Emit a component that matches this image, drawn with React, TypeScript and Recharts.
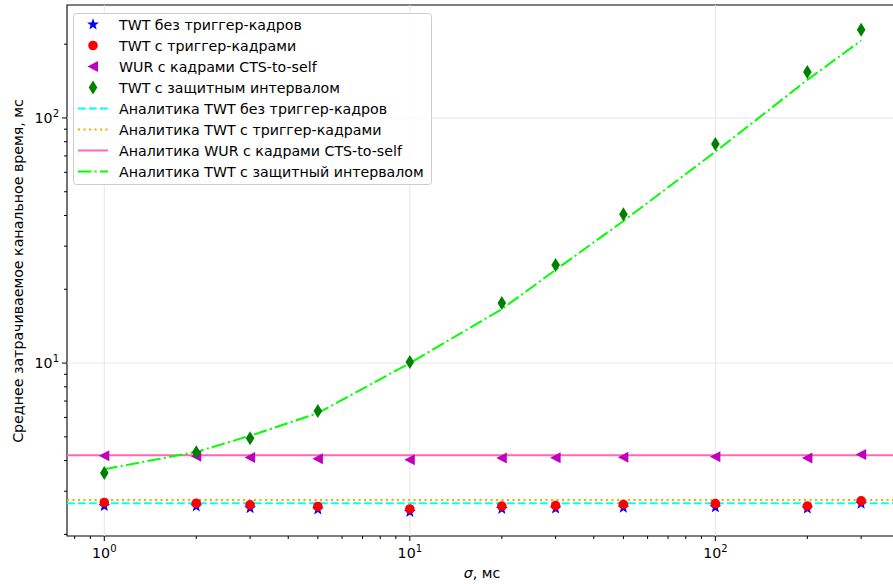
import {
  ComposedChart,
  Line,
  ReferenceArea,
  ReferenceLine,
  Scatter,
  XAxis,
  YAxis,
} from "recharts";

// sigma, ms
const SIGMA = [1, 2, 3, 5, 10, 20, 30, 50, 100, 200, 300];

// simulated mean channel time, ms
const twtNoTrigger = [2.61, 2.6, 2.56, 2.53, 2.47, 2.54, 2.55, 2.57, 2.58, 2.55, 2.67];
const twtTrigger = [2.7, 2.68, 2.64, 2.6, 2.54, 2.61, 2.62, 2.65, 2.67, 2.61, 2.74];
const wurCts = [4.19, 4.17, 4.12, 4.07, 4.03, 4.1, 4.11, 4.13, 4.15, 4.1, 4.24];
const twtGuard = [3.56, 4.33, 4.94, 6.37, 10.1, 17.6, 25.1, 40.5, 78.3, 154, 229];

// analytics
const analyticGuard = [3.69, 4.34, 5.05, 6.25, 10.0, 16.6, 24.0, 38.0, 72.8, 143, 207];
const ANALYTIC_NO_TRIGGER = 2.68;
const ANALYTIC_TRIGGER = 2.76;
const ANALYTIC_WUR = 4.21;

const X_DOMAIN = [0.755, 399];
const Y_DOMAIN = [1.97, 289];
const X_MAJOR = [1, 10, 100];
const X_MINOR = [0.8, 0.9, 2, 3, 4, 5, 6, 7, 8, 9, 20, 30, 40, 50, 60, 70, 80, 90, 200, 300];
const Y_MAJOR = [10, 100];
const Y_MINOR = [2, 3, 4, 5, 6, 7, 8, 9, 20, 30, 40, 50, 60, 70, 80, 90, 200];

const LABELS = {
  noTrigger: "TWT без триггер-кадров",
  trigger: "TWT с триггер-кадрами",
  wur: "WUR с кадрами CTS-to-self",
  guard: "TWT с защитным интервалом",
  aNoTrigger: "Аналитика TWT без триггер-кадров",
  aTrigger: "Аналитика TWT с триггер-кадрами",
  aWur: "Аналитика WUR с кадрами CTS-to-self",
  aGuard: "Аналитика TWT с защитный интервалом",
};

const FONT = "DejaVu Sans";
const FS = 14.2;
const LW = 2;
const DASHED = "7.7 3.3";
const DOTTED = "2.1 3.4";
const DASHDOT = "13.3 3.3 2.1 3.3";
const C = {
  blue: "#0000ff",
  red: "#ff0000",
  magenta: "#bf00bf",
  green: "#008000",
  cyan: "#00ffff",
  orange: "#ffa500",
  pink: "#ff69b4",
  lime: "#00ff00",
  grid: "#e6e6e6",
};

const pts = (vals: number[]) => SIGMA.map((x, i) => ({ x, y: vals[i] }));

function starPath(cx: number, cy: number, R: number) {
  const r = R * 0.42;
  let d = "";
  for (let i = 0; i < 10; i++) {
    const a = -Math.PI / 2 + (i * Math.PI) / 5;
    const rr = i % 2 === 0 ? R : r;
    d += (i === 0 ? "M" : "L") + (cx + rr * Math.cos(a)) + "," + (cy + rr * Math.sin(a));
  }
  return d + "Z";
}

const Star = ({ cx, cy }: any) => <path d={starPath(cx, cy, 6.2)} fill={C.blue} />;
const Dot = ({ cx, cy }: any) => <circle cx={cx} cy={cy} r={4.8} fill={C.red} />;
const TriLeft = ({ cx, cy }: any) => (
  <path d={`M${cx - 5.5},${cy}L${cx + 5},${cy - 5.5}L${cx + 5},${cy + 5.5}Z`} fill={C.magenta} />
);
const ThinDiamond = ({ cx, cy }: any) => (
  <path d={`M${cx},${cy - 7}L${cx + 4.3},${cy}L${cx},${cy + 7}L${cx - 4.3},${cy}Z`} fill={C.green} />
);

const XTick = ({ x, y, payload }: any) => {
  const v = payload.value;
  const major = X_MAJOR.includes(v);
  return (
    <g>
      <line x1={x} y1={y} x2={x} y2={y + (major ? 5 : 3)} stroke="#000" strokeWidth={1} />
      {major && (
        <text x={x} y={y + 22} textAnchor="middle" fontFamily={FONT} fontSize={FS} fill="#000">
          <tspan>10</tspan>
          <tspan dy={-6} fontSize={10}>{Math.round(Math.log10(v))}</tspan>
        </text>
      )}
    </g>
  );
};

const YTick = ({ x, y, payload }: any) => {
  const v = payload.value;
  const major = Y_MAJOR.includes(v);
  return (
    <g>
      <line x1={x - (major ? 5 : 3)} y1={y} x2={x} y2={y} stroke="#000" strokeWidth={1} />
      {major && (
        <text x={x - 8} y={y + 5} textAnchor="end" fontFamily={FONT} fontSize={FS} fill="#000">
          <tspan>10</tspan>
          <tspan dy={-6} fontSize={10}>{Math.round(Math.log10(v))}</tspan>
        </text>
      )}
    </g>
  );
};

const legendRows = [
  { label: LABELS.noTrigger, icon: (cx: number, cy: number) => <Star cx={cx} cy={cy} /> },
  { label: LABELS.trigger, icon: (cx: number, cy: number) => <Dot cx={cx} cy={cy} /> },
  { label: LABELS.wur, icon: (cx: number, cy: number) => <TriLeft cx={cx} cy={cy} /> },
  { label: LABELS.guard, icon: (cx: number, cy: number) => <ThinDiamond cx={cx} cy={cy} /> },
  { label: LABELS.aNoTrigger, color: C.cyan, dash: DASHED },
  { label: LABELS.aTrigger, color: C.orange, dash: DOTTED },
  { label: LABELS.aWur, color: C.pink, dash: undefined },
  { label: LABELS.aGuard, color: C.lime, dash: DASHDOT },
];

function Overlay() {
  return (
    <svg
      width={893}
      height={584}
      style={{ position: "absolute", left: 0, top: 0, pointerEvents: "none" }}
    >
      <rect x={73.5} y={13.5} width={358} height={171} rx={3} fill="#fff" fillOpacity={0.8} stroke="#cccccc" />
      {legendRows.map((r: any, i) => {
        const cy = 24.5 + i * 21;
        return (
          <g key={i}>
            {r.icon ? (
              r.icon(93, cy)
            ) : (
              <line x1={78} y1={cy} x2={108} y2={cy} stroke={r.color} strokeWidth={LW} strokeDasharray={r.dash} />
            )}
            <text x={119} y={cy + 5} fontFamily={FONT} fontSize={FS} fill="#000">
              {r.label}
            </text>
          </g>
        );
      })}
      <text
        transform="translate(23,271) rotate(-90)"
        textAnchor="middle"
        fontFamily={FONT}
        fontSize={FS}
        fill="#000"
      >
        Среднее затрачиваемое канальное время, мс
      </text>
      <text x={482} y={578} textAnchor="middle" fontFamily={FONT} fontSize={FS} fill="#000">
        <tspan fontStyle="italic">σ</tspan>, мс
      </text>
    </svg>
  );
}

export default function App() {
  return (
    <div
      style={{
        position: "absolute",
        left: 0,
        top: 0,
        width: 893,
        height: 584,
        overflow: "hidden",
        background: "#fff",
      }}
    >
      <ComposedChart width={905} height={584} margin={{ top: 5, right: 6, bottom: 0, left: 0 }}>
        <XAxis
          dataKey="x"
          type="number"
          scale="log"
          domain={X_DOMAIN}
          allowDataOverflow
          ticks={[...X_MAJOR, ...X_MINOR]}
          interval={0}
          tickSize={0}
          tickMargin={0}
          tickLine={false}
          tick={<XTick />}
          axisLine={false}
          height={48}
        />
        <YAxis
          dataKey="y"
          type="number"
          scale="log"
          domain={Y_DOMAIN}
          allowDataOverflow
          ticks={[...Y_MAJOR, ...Y_MINOR]}
          interval={0}
          tickSize={0}
          tickMargin={0}
          tickLine={false}
          tick={<YTick />}
          axisLine={false}
          width={67}
        />
        {X_MAJOR.map((v) => (
          <ReferenceLine key={"gx" + v} x={v} stroke={C.grid} strokeWidth={1} />
        ))}
        {Y_MAJOR.map((v) => (
          <ReferenceLine key={"gy" + v} y={v} stroke={C.grid} strokeWidth={1} />
        ))}
        <Scatter data={pts(twtNoTrigger)} shape={Star} isAnimationActive={false} />
        <Scatter data={pts(twtTrigger)} shape={Dot} isAnimationActive={false} />
        <Scatter data={pts(wurCts)} shape={TriLeft} isAnimationActive={false} />
        <Scatter data={pts(twtGuard)} shape={ThinDiamond} isAnimationActive={false} />
        <ReferenceLine y={ANALYTIC_NO_TRIGGER} stroke={C.cyan} strokeWidth={LW} strokeDasharray={DASHED} />
        <ReferenceLine y={ANALYTIC_TRIGGER} stroke={C.orange} strokeWidth={LW} strokeDasharray={DOTTED} />
        <ReferenceLine y={ANALYTIC_WUR} stroke={C.pink} strokeWidth={LW} />
        <Line
          data={pts(analyticGuard)}
          dataKey="y"
          type="linear"
          stroke={C.lime}
          strokeWidth={LW}
          strokeDasharray={DASHDOT}
          dot={false}
          isAnimationActive={false}
        />
        <ReferenceArea
          x1={X_DOMAIN[0]}
          x2={X_DOMAIN[1]}
          y1={Y_DOMAIN[0]}
          y2={Y_DOMAIN[1]}
          fill="none"
          stroke="#000"
          strokeWidth={1.1}
          ifOverflow="visible"
        />
      </ComposedChart>
      <Overlay />
    </div>
  );
}
